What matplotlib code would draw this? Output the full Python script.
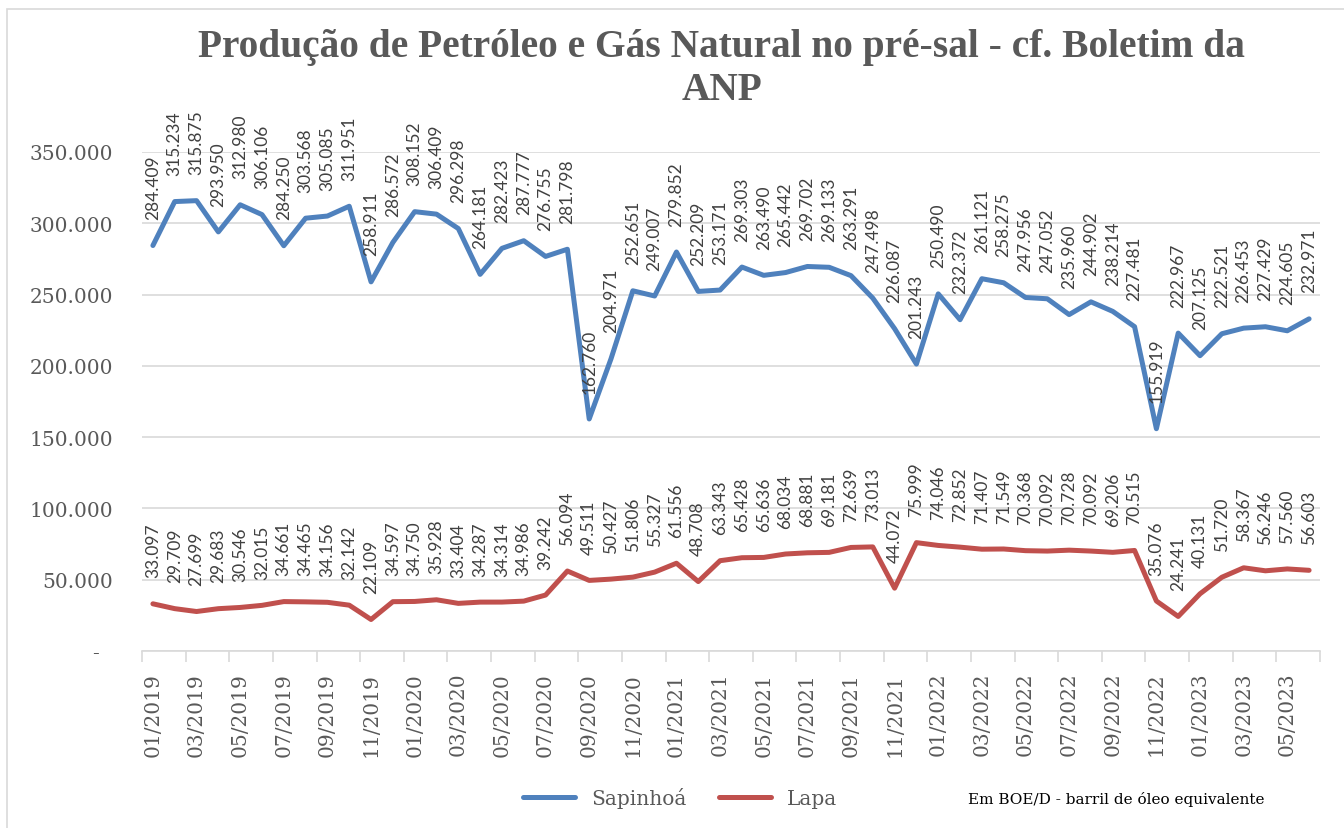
import matplotlib
matplotlib.use('Agg')
import matplotlib.pyplot as plt
from matplotlib.lines import Line2D
from matplotlib.patches import Rectangle
from matplotlib.ticker import FuncFormatter, FixedLocator

# Data (BOE/D), monthly 01/2019 - 06/2023
months = [f"{m:02d}/{y}" for y in range(2019, 2024) for m in range(1, 13)][:54]

sapinhoa = [284409, 315234, 315875, 293950, 312980, 306106, 284250, 303568, 305085, 311951,
            258911, 286572, 308152, 306409, 296298, 264181, 282423, 287777, 276755, 281798,
            162760, 204971, 252651, 249007, 279852, 252209, 253171, 269303, 263490, 265442,
            269702, 269133, 263291, 247498, 226087, 201243, 250490, 232372, 261121, 258275,
            247956, 247052, 235960, 244902, 238214, 227481, 155919, 222967, 207125, 222521,
            226453, 227429, 224605, 232971]

lapa = [33097, 29709, 27699, 29683, 30546, 32015, 34661, 34465, 34156, 32142,
        22109, 34597, 34750, 35928, 33404, 34287, 34314, 34986, 39242, 56094,
        49511, 50427, 51806, 55327, 61556, 48708, 63343, 65428, 65636, 68034,
        68881, 69181, 72639, 73013, 44072, 75999, 74046, 72852, 71407, 71549,
        70368, 70092, 70728, 70092, 69206, 70515, 35076, 24241, 40131, 51720,
        58367, 56246, 57560, 56603]

BLUE = '#4F81BD'
RED = '#C0504D'
GRID = '#D9D9D9'
TXT = '#595959'
SERIF = 'DejaVu Serif'
LABEL_FONT = ['Lato', 'DejaVu Sans']


def thousands(v):
    return f"{v:,.0f}".replace(',', '.')


fig = plt.figure(figsize=(13.44, 8.29), dpi=100)
ax = fig.add_axes([142 / 1344, 177 / 829, (1320 - 142) / 1344, (652 - 153) / 829])

x = list(range(len(months)))
ax.plot(x, sapinhoa, color=BLUE, lw=3.6, solid_joinstyle='round', solid_capstyle='round', zorder=3)
ax.plot(x, lapa, color=RED, lw=3.6, solid_joinstyle='round', solid_capstyle='round', zorder=3)

for series in (sapinhoa, lapa):
    for i, v in enumerate(series):
        ax.annotate(f"{v / 1000:.3f}", (i, v), xytext=(0, 19), textcoords='offset points',
                    rotation=90, ha='center', va='bottom', fontsize=12.5,
                    family=LABEL_FONT, color='#404040', annotation_clip=False)

ax.set_xlim(-0.5, len(months) - 0.5)
ax.set_ylim(0, 350000)
ax.set_yticks(range(0, 350001, 50000))
ax.yaxis.set_major_formatter(FuncFormatter(lambda v, p: '-  ' if v == 0 else thousands(v)))
ax.grid(axis='y', color=GRID, lw=1.2)
ax.set_axisbelow(True)

ax.set_xticks(x[::2])
ax.set_xticklabels(months[::2], rotation=90, va='top')
ax.xaxis.set_minor_locator(FixedLocator([i - 0.5 for i in range(0, len(months) + 1, 2)]))
ax.tick_params(axis='x', which='major', length=0, pad=15)
ax.tick_params(axis='x', which='minor', length=8, color=GRID, width=1.2)
ax.tick_params(axis='y', length=0, pad=21)
for lab in ax.get_xticklabels() + ax.get_yticklabels():
    lab.set_family(SERIF)
    lab.set_fontsize(14.5)
    lab.set_color(TXT)

for s in ('top', 'right', 'left'):
    ax.spines[s].set_visible(False)
ax.spines['bottom'].set_color(GRID)
ax.spines['bottom'].set_linewidth(1.2)

TITLE_FONT = ['Liberation Serif', 'DejaVu Serif']
fig.text(0.537, 0.943, 'Produção de Petróleo e Gás Natural no pré-sal - cf. Boletim da',
         ha='center', va='center', fontsize=28.4, fontweight='bold', family=TITLE_FONT, color=TXT)
fig.text(0.537, 0.891, 'ANP', ha='center', va='center', fontsize=28.4,
         fontweight='bold', family=TITLE_FONT, color=TXT)

handles = [Line2D([], [], color=BLUE, lw=3.6, solid_capstyle='round'),
           Line2D([], [], color=RED, lw=3.6, solid_capstyle='round')]
fig.legend(handles, ['Sapinhoá', 'Lapa'], loc='center', bbox_to_anchor=(0.506, 0.037),
           ncol=2, frameon=False, handlelength=2.6, columnspacing=1.6,
           prop={'family': SERIF, 'size': 14.5}, labelcolor=TXT)
fig.text(968 / 1344, 0.035, 'Em BOE/D - barril de óleo equivalente', ha='left', va='center',
         fontsize=11, family=SERIF, color='black')

fig.patches.append(Rectangle((7 / 1344, -0.05), 1.2, 1.05 - 10 / 829, transform=fig.transFigure,
                             fill=False, edgecolor=GRID, lw=1.2))

fig.savefig('out.png', dpi=100, facecolor='white')
